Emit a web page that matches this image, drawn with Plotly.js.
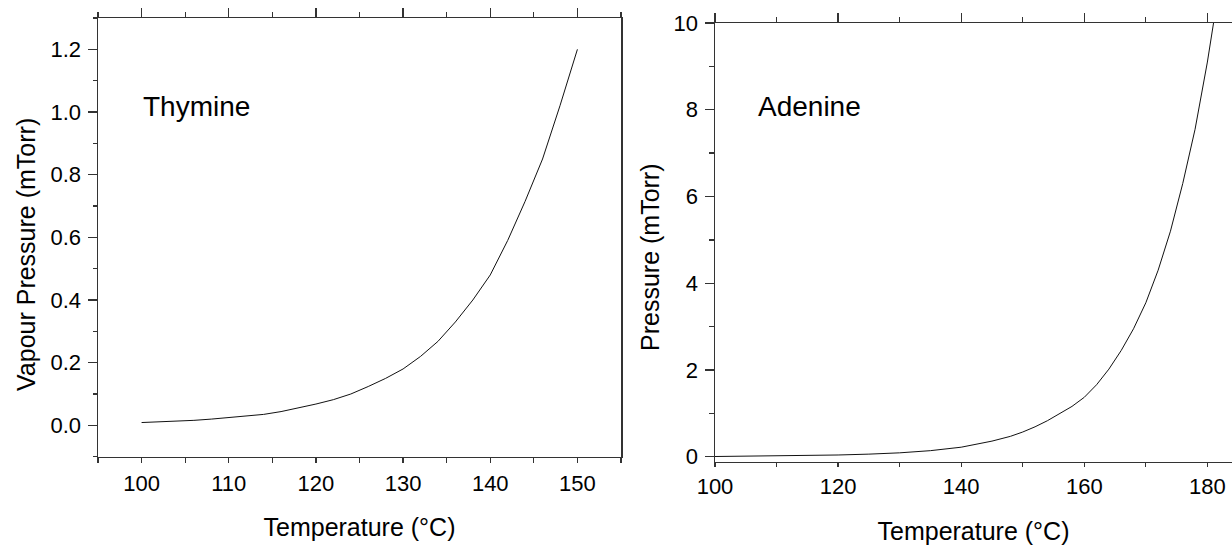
<!DOCTYPE html>
<html>
<head>
<meta charset="utf-8">
<script src="https://cdn.plot.ly/plotly-3.0.1.min.js"></script>
<style>html,body{margin:0;padding:0;background:#fff;}#chart{width:1232px;height:546px;}</style>
</head>
<body>
<div id="chart"></div>
<script>
// Thymine vapour pressure (mTorr) vs temperature (°C)
const thymineT = [100,102,104,106,108,110,112,114,116,118,120,122,124,126,128,130,132,134,136,138,140,142,144,146,148,150];
const thymineP = [0.009,0.011,0.013,0.016,0.020,0.025,0.030,0.035,0.044,0.055,0.068,0.082,0.100,0.124,0.150,0.180,0.220,0.268,0.330,0.400,0.480,0.590,0.715,0.850,1.02,1.20];

// Adenine pressure (mTorr) vs temperature (°C)
const adenineT = [100,105,110,115,120,125,130,135,140,145,148,150,152,154,156,158,160,162,164,166,168,170,172,174,176,178,180,181];
const adenineP = [0.005,0.01,0.015,0.025,0.04,0.06,0.09,0.14,0.22,0.36,0.47,0.57,0.69,0.83,0.99,1.16,1.37,1.66,2.02,2.45,2.95,3.55,4.30,5.20,6.30,7.55,9.10,10.0];

const leftLabel = 'Thymine';
const rightLabel = 'Adenine';
const xTitle = 'Temperature (°C)';
const yTitleLeft = 'Vapour Pressure (mTorr)';
const yTitleRight = 'Pressure (mTorr)';

const FONT = 'Liberation Sans, Arial, sans-serif';
const AX = '#333';

const traces = [
  {x: thymineT, y: thymineP, xaxis: 'x', yaxis: 'y', mode: 'lines', line: {color: '#111', width: 1}, hoverinfo: 'skip'},
  {x: adenineT, y: adenineP, xaxis: 'x2', yaxis: 'y2', mode: 'lines', line: {color: '#111', width: 1}, hoverinfo: 'skip'},
  {x: [], y: [], xaxis: 'x3', yaxis: 'y', mode: 'lines'},
  {x: [], y: [], xaxis: 'x4', yaxis: 'y2', mode: 'lines'}
];

const tickFont = {family: FONT, size: 22, color: '#000'};
const titleFont = {family: FONT, size: 25, color: '#000'};

const dL = [98/1232, 621/1232];
const dR = [715/1232, 1];

const layout = {
  width: 1232, height: 546,
  margin: {l: 0, r: 0, t: 0, b: 0},
  paper_bgcolor: '#fff', plot_bgcolor: '#fff',
  showlegend: false,
  xaxis: {
    domain: dL, range: [95, 155], anchor: 'y',
    tick0: 100, dtick: 10, ticks: 'outside', ticklen: 5, tickwidth: 1.3, tickcolor: AX,
    minor: {dtick: 5, ticks: 'outside', ticklen: 5, tickwidth: 1.3, tickcolor: AX, showgrid: false},
    showline: true, linecolor: AX, linewidth: 1.5, mirror: false,
    showgrid: false, zeroline: false, tickfont: tickFont, ticklabelstandoff: 1,
    title: {text: xTitle, font: titleFont, standoff: 24}, automargin: false
  },
  xaxis3: {
    domain: dL, range: [95, 155], anchor: 'y', overlaying: 'x', side: 'top',
    tick0: 100, dtick: 10, ticks: 'outside', ticklen: 9, tickwidth: 1.3, tickcolor: AX,
    minor: {dtick: 5, ticks: 'outside', ticklen: 5, tickwidth: 1.3, tickcolor: AX, showgrid: false},
    showline: true, linecolor: AX, linewidth: 1.5,
    showgrid: false, zeroline: false, showticklabels: false, automargin: false
  },
  yaxis: {
    domain: [1 - 456.7/546, 1 - 18/546], range: [-0.1, 1.3], anchor: 'x',
    tick0: 0, dtick: 0.2, tickformat: '.1f', ticks: 'outside', ticklen: 9, tickwidth: 1.3, tickcolor: AX,
    minor: {dtick: 0.1, ticks: 'outside', ticklen: 4, tickwidth: 1.3, tickcolor: AX, showgrid: false},
    showline: true, linecolor: AX, linewidth: 1.5, mirror: true,
    showgrid: false, zeroline: false, tickfont: tickFont, ticklabelstandoff: 2,
    automargin: false
  },
  xaxis2: {
    domain: dR, range: [100, 184], anchor: 'y2',
    tick0: 100, dtick: 20, ticks: 'outside', ticklen: 4, tickwidth: 1.3, tickcolor: AX,
    minor: {dtick: 10, ticks: 'outside', ticklen: 4, tickwidth: 1.3, tickcolor: AX, showgrid: false},
    showline: true, linecolor: AX, linewidth: 1.5,
    showgrid: false, zeroline: false, tickfont: tickFont, ticklabelstandoff: 1,
    title: {text: xTitle, font: titleFont, standoff: 24}, automargin: false
  },
  xaxis4: {
    domain: dR, range: [100, 184], anchor: 'y2', overlaying: 'x2', side: 'top',
    tick0: 100, dtick: 20, ticks: 'outside', ticklen: 9, tickwidth: 1.3, tickcolor: AX,
    minor: {dtick: 10, ticks: 'outside', ticklen: 5, tickwidth: 1.3, tickcolor: AX, showgrid: false},
    showline: true, linecolor: AX, linewidth: 1.5,
    showgrid: false, zeroline: false, showticklabels: false, automargin: false
  },
  yaxis2: {
    domain: [1 - 461.5/546, 1 - 23/546], range: [-0.11, 10], anchor: 'x2',
    tick0: 0, dtick: 2, ticks: 'outside', ticklen: 9, tickwidth: 1.3, tickcolor: AX,
    minor: {dtick: 1, ticks: 'outside', ticklen: 5, tickwidth: 1.3, tickcolor: AX, showgrid: false},
    showline: true, linecolor: AX, linewidth: 1.5, mirror: false,
    showgrid: false, zeroline: false, tickfont: tickFont, ticklabelstandoff: 2,
    automargin: false
  },
  annotations: [
    {text: yTitleLeft, xref: 'paper', yref: 'paper', x: 26/1232, y: 1 - 255/546, xanchor: 'center', yanchor: 'middle', textangle: -90, showarrow: false, font: titleFont},
    {text: yTitleRight, xref: 'paper', yref: 'paper', x: 650/1232, y: 1 - 257/546, xanchor: 'center', yanchor: 'middle', textangle: -90, showarrow: false, font: titleFont},
    {text: leftLabel, xref: 'paper', yref: 'paper', x: 141/1232, y: 1 - 107/546, xanchor: 'left', yanchor: 'middle', showarrow: false, font: {family: FONT, size: 28, color: '#000'}},
    {text: rightLabel, xref: 'paper', yref: 'paper', x: 756/1232, y: 1 - 107/546, xanchor: 'left', yanchor: 'middle', showarrow: false, font: {family: FONT, size: 28, color: '#000'}}
  ]
};

Plotly.newPlot('chart', traces, layout, {staticPlot: true, displayModeBar: false});
</script>
</body>
</html>
